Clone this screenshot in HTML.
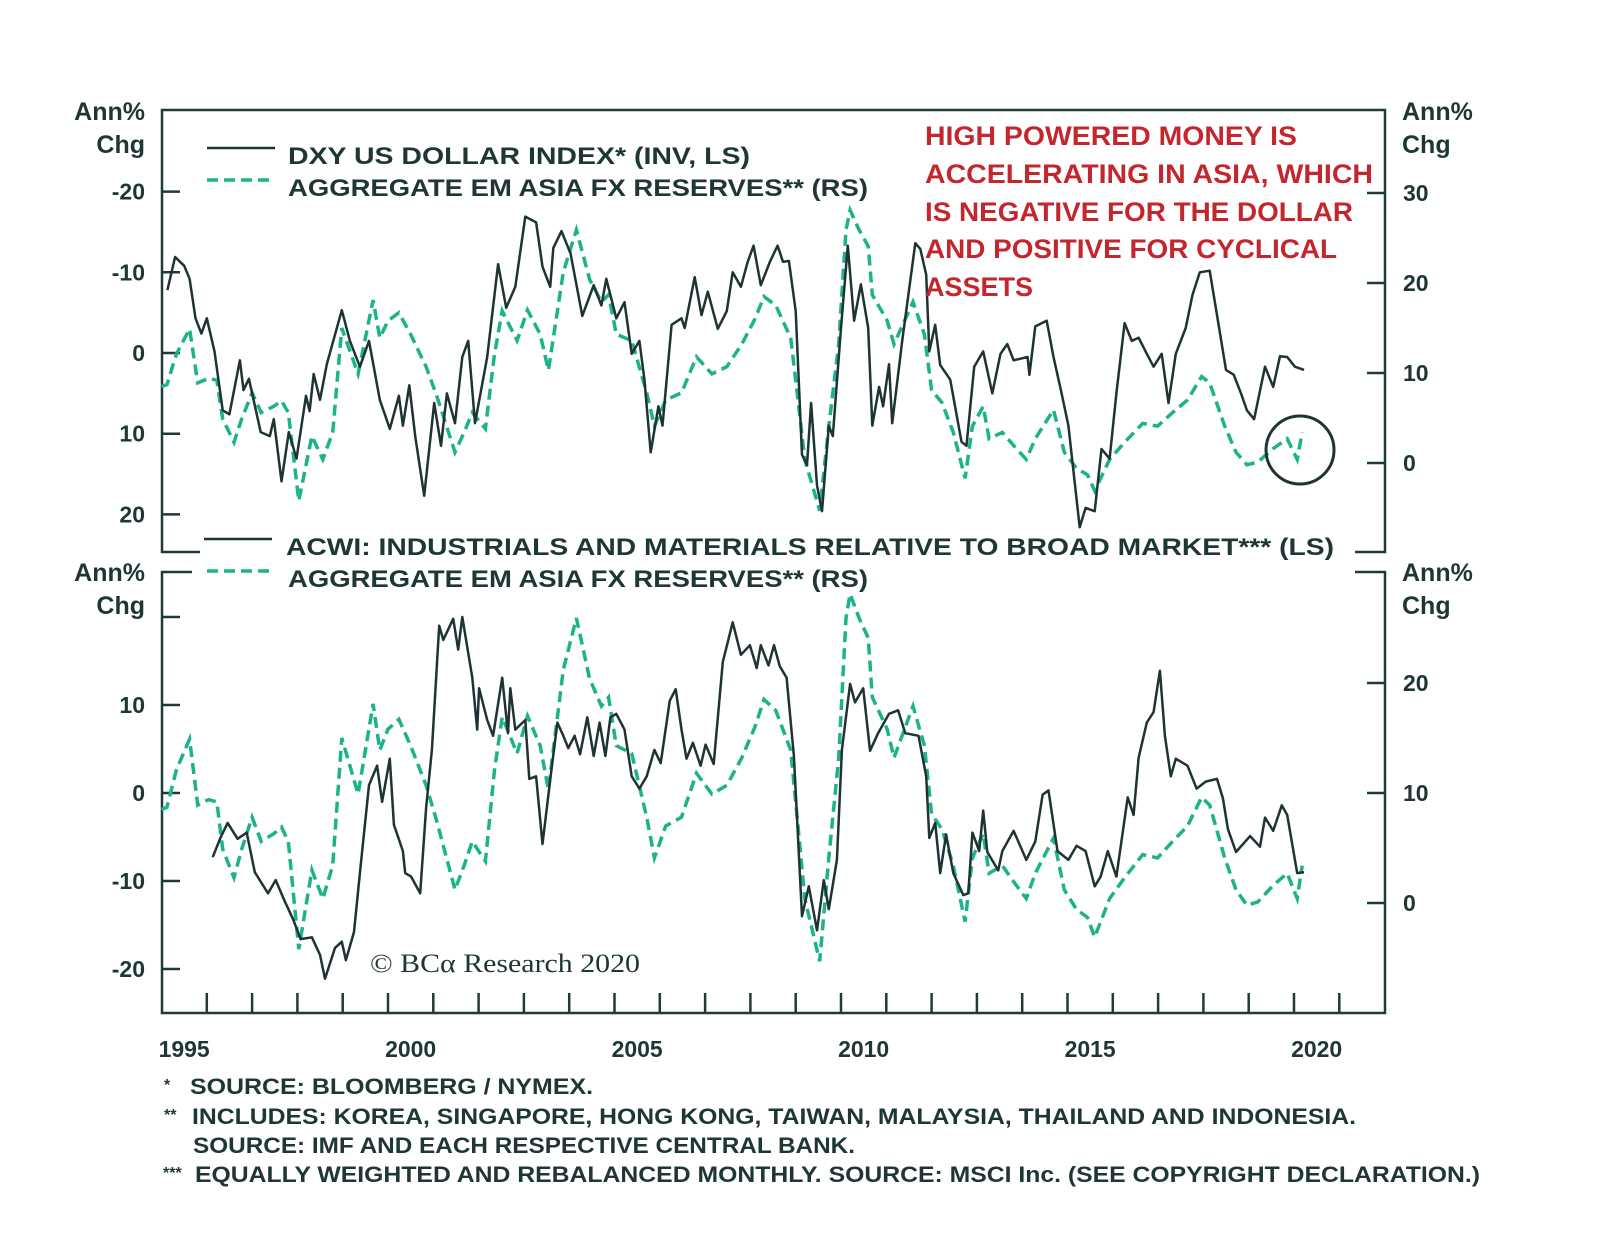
<!DOCTYPE html>
<html><head><meta charset="utf-8"><style>
html,body{margin:0;padding:0;background:#fff}
svg{display:block}
text{font-family:"Liberation Sans",sans-serif;font-weight:bold;fill:#1e3636}
</style></head><body>
<svg id="chart" width="1600" height="1247" viewBox="0 0 1600 1247" xmlns="http://www.w3.org/2000/svg">
<g id="frames" stroke="#1e3a3a" stroke-width="2.5" fill="none">
  <path d="M200 552 H162 V110 H1385 V552 H1355"/>
  <path d="M192 572 H162 V1013 H1385 V572 H1355"/>
</g>
<g id="axes"></g>
<g id="series"></g>
<g>
  <line x1="207" y1="148" x2="275" y2="148" stroke="#1e3333" stroke-width="2.5"/>
  <text x="288" y="164" font-size="24" textLength="462" lengthAdjust="spacingAndGlyphs">DXY US DOLLAR INDEX* (INV, LS)</text>
  <line x1="207" y1="180" x2="275" y2="180" stroke="#1cb38b" stroke-width="3.5" stroke-dasharray="11 6"/>
  <text x="288" y="196" font-size="24" textLength="580" lengthAdjust="spacingAndGlyphs">AGGREGATE EM ASIA FX RESERVES** (RS)</text>
</g>
<g>
  <line x1="204" y1="539" x2="272" y2="539" stroke="#1e3333" stroke-width="2.5"/>
  <text x="286" y="555" font-size="24" textLength="1048" lengthAdjust="spacingAndGlyphs">ACWI: INDUSTRIALS AND MATERIALS RELATIVE TO BROAD MARKET*** (LS)</text>
  <line x1="207" y1="571" x2="275" y2="571" stroke="#1cb38b" stroke-width="3.5" stroke-dasharray="11 6"/>
  <text x="288" y="587" font-size="24" textLength="580" lengthAdjust="spacingAndGlyphs">AGGREGATE EM ASIA FX RESERVES** (RS)</text>
</g>
<g font-size="27">
  <text x="925" y="145" style="fill:#c4262e" textLength="372" lengthAdjust="spacingAndGlyphs">HIGH POWERED MONEY IS</text>
  <text x="925" y="183" style="fill:#c4262e" textLength="448" lengthAdjust="spacingAndGlyphs">ACCELERATING IN ASIA, WHICH</text>
  <text x="925" y="221" style="fill:#c4262e" textLength="428" lengthAdjust="spacingAndGlyphs">IS NEGATIVE FOR THE DOLLAR</text>
  <text x="925" y="258" style="fill:#c4262e" textLength="412" lengthAdjust="spacingAndGlyphs">AND POSITIVE FOR CYCLICAL</text>
  <text x="925" y="296" style="fill:#c4262e" textLength="108" lengthAdjust="spacingAndGlyphs">ASSETS</text>
</g>
<circle cx="1300" cy="450" r="34" fill="none" stroke="#1e3333" stroke-width="3"/>
<text x="370" y="972" font-size="26" style="font-family:'Liberation Serif',serif;font-weight:normal" textLength="270" lengthAdjust="spacingAndGlyphs">© BCα Research 2020</text>
<g font-size="22">
  <text x="164" y="1090" font-size="16">*</text>
  <text x="190" y="1094" textLength="403" lengthAdjust="spacingAndGlyphs">SOURCE: BLOOMBERG / NYMEX.</text>
  <text x="164" y="1120" font-size="16">**</text>
  <text x="192" y="1124" textLength="1164" lengthAdjust="spacingAndGlyphs">INCLUDES: KOREA, SINGAPORE, HONG KONG, TAIWAN, MALAYSIA, THAILAND AND INDONESIA.</text>
  <text x="193" y="1153" textLength="662" lengthAdjust="spacingAndGlyphs">SOURCE: IMF AND EACH RESPECTIVE CENTRAL BANK.</text>
  <text x="163" y="1178" font-size="16">***</text>
  <text x="195" y="1182" textLength="1285" lengthAdjust="spacingAndGlyphs">EQUALLY WEIGHTED AND REBALANCED MONTHLY. SOURCE: MSCI Inc. (SEE COPYRIGHT DECLARATION.)</text>
</g>
</svg>
<script>
// ---- data ----
const resT = [1995.0,1995.12,1995.33,1995.62,1995.8,1996.04,1996.22,1996.35,1996.6,1996.77,1997.0,1997.2,1997.48,1997.65,1997.8,1998.03,1998.32,1998.56,1998.78,1998.98,1999.34,1999.67,1999.82,2000.0,2000.24,2000.5,2000.84,2001.08,2001.48,2001.68,2001.86,2002.15,2002.35,2002.52,2002.85,2003.08,2003.36,2003.54,2003.87,2004.16,2004.45,2004.71,2004.87,2005.04,2005.38,2005.71,2005.88,2006.13,2006.48,2006.81,2007.15,2007.48,2007.81,2008.1,2008.3,2008.56,2008.89,2009.05,2009.2,2009.53,2009.73,2009.95,2010.11,2010.2,2010.4,2010.6,2010.69,2011.02,2011.17,2011.59,2011.84,2012.0,2012.23,2012.48,2012.74,2012.9,2013.14,2013.27,2013.56,2013.87,2014.09,2014.29,2014.69,2014.93,2015.2,2015.44,2015.6,2015.93,2016.26,2016.66,2016.99,2017.32,2017.65,2017.96,2018.14,2018.47,2018.72,2018.96,2019.2,2019.54,2019.85,2020.07,2020.18];
const resV = [8.5,8.7,12.1,14.9,8.9,9.4,9.2,4.9,2.3,4.9,7.8,5.6,6.3,6.9,5.6,-4.2,3.0,0.4,3.4,15,9.9,18.1,13.9,15.8,16.7,14.3,10.7,7.4,1.2,3.4,5.6,3.8,12.1,16.9,13.6,17,14.3,10.3,21.2,25.9,20.4,17.9,18.7,14.3,13.6,7.8,4.1,7,7.8,11.8,9.9,10.7,13.2,16,18.5,17.5,13.9,7,0.4,-5.3,4.1,13.2,25.9,28.1,25.9,24.1,18.7,15.8,13.2,17.9,14.3,8.1,6.7,3.4,-1.7,4.1,6.3,2.7,3.4,1.6,0.4,2.7,5.9,1.2,-0.6,-1.3,-3.1,0.4,2.3,4.4,4.1,5.6,7,9.6,8.9,4.1,1.2,-0.2,0.1,1.6,2.7,0.4,3.4];
const dxyT = [1995.13,1995.3,1995.5,1995.62,1995.75,1995.88,1996.0,1996.17,1996.35,1996.5,1996.73,1996.81,1996.93,1997.19,1997.39,1997.48,1997.65,1997.81,1997.98,1998.19,1998.27,1998.36,1998.5,1998.65,1998.98,1999.16,1999.38,1999.58,1999.82,2000.04,2000.24,2000.33,2000.47,2000.6,2000.8,2001.02,2001.17,2001.3,2001.48,2001.64,2001.77,2001.92,2002.19,2002.43,2002.61,2002.81,2003.03,2003.27,2003.41,2003.58,2003.65,2003.83,2004.03,2004.29,2004.54,2004.71,2004.82,2005.04,2005.22,2005.38,2005.55,2005.66,2005.8,2005.97,2006.06,2006.26,2006.48,2006.55,2006.77,2006.92,2007.06,2007.28,2007.48,2007.61,2007.79,2007.94,2008.07,2008.23,2008.43,2008.6,2008.72,2008.85,2009.0,2009.14,2009.25,2009.34,2009.47,2009.58,2009.73,2009.82,2010.0,2010.15,2010.29,2010.44,2010.6,2010.69,2010.84,2010.93,2011.06,2011.13,2011.35,2011.64,2011.75,2011.88,2011.95,2012.08,2012.19,2012.41,2012.66,2012.77,2012.94,2013.14,2013.34,2013.52,2013.67,2013.81,2014.12,2014.16,2014.29,2014.54,2014.69,2014.87,2015.02,2015.27,2015.4,2015.6,2015.75,2015.93,2016.08,2016.26,2016.42,2016.57,2016.75,2016.9,2017.08,2017.23,2017.39,2017.61,2017.76,2017.92,2018.14,2018.3,2018.5,2018.67,2018.83,2018.96,2019.12,2019.36,2019.54,2019.69,2019.85,2020.02,2020.22];
const dxyV = [-7.8,-11.9,-10.8,-9.2,-4.3,-2.4,-4.3,-0.2,7.1,7.6,0.9,4.6,3.2,9.8,10.3,8.2,15.9,9.8,13.1,5.3,7.2,2.6,5.8,1.4,-5.3,-1.5,1.7,-1.5,5.8,9.4,5.3,9.0,4.0,10.3,17.7,6.2,11.5,5.0,8.7,0.5,-1.5,8.7,0.5,-11,-5.6,-8.2,-16.9,-16.2,-10.7,-8.2,-13,-15.1,-12.3,-4.6,-8.4,-5.9,-9.2,-4.3,-6.3,0.1,-1.5,3.3,12.3,6.6,9.0,-3.5,-4.3,-3.1,-9.4,-4.7,-7.6,-3.0,-5.2,-10,-8.2,-11.3,-13.3,-8.4,-11.3,-13.3,-11.3,-11.4,-5.2,12.6,13.9,6.2,16.4,19.6,9.0,10.3,-3.1,-13.3,-4.0,-8.5,-3.1,9.0,4.2,6.6,1.4,8.7,-1.5,-13.6,-12.9,-9.7,-0.2,-3.5,1.5,3.3,11.0,11.5,1.7,-0.2,5.0,0.1,-1.1,0.9,0.5,2.7,-3.3,-4.0,0.5,5.0,9.0,21.6,19.2,19.6,11.9,13.1,5.0,-3.7,-1.5,-1.9,0.1,1.7,0.1,6.2,0.1,-3.1,-7.2,-10.0,-10.2,-4.7,2.1,2.7,5.0,7.1,8.2,1.7,4.2,0.4,0.5,1.7,2.1];
const acwiT = [1996.13,1996.3,1996.46,1996.68,1996.88,1997.06,1997.35,1997.52,1997.72,1997.9,1998.07,1998.32,1998.5,1998.61,1998.83,1998.98,1999.07,1999.25,1999.38,1999.58,1999.76,1999.87,2000.04,2000.13,2000.33,2000.38,2000.51,2000.71,2000.84,2000.97,2001.13,2001.22,2001.44,2001.55,2001.64,2001.86,2001.97,2002.01,2002.19,2002.32,2002.52,2002.65,2002.7,2002.81,2003.03,2003.12,2003.27,2003.41,2003.61,2003.74,2003.87,2003.98,2004.12,2004.24,2004.4,2004.54,2004.67,2004.8,2004.91,2005.04,2005.22,2005.38,2005.55,2005.71,2005.88,2006.02,2006.22,2006.35,2006.48,2006.59,2006.73,2006.9,2007.01,2007.19,2007.39,2007.61,2007.79,2007.99,2008.14,2008.23,2008.4,2008.52,2008.65,2008.8,2008.96,2009.14,2009.29,2009.47,2009.62,2009.73,2009.91,2010.02,2010.2,2010.31,2010.49,2010.64,2010.82,2011.06,2011.26,2011.42,2011.71,2011.88,2011.95,2012.08,2012.19,2012.32,2012.48,2012.7,2012.81,2012.9,2013.05,2013.14,2013.23,2013.47,2013.56,2013.81,2014.09,2014.29,2014.45,2014.58,2014.78,2015.02,2015.2,2015.4,2015.6,2015.73,2015.89,2016.08,2016.33,2016.46,2016.57,2016.75,2016.9,2017.04,2017.15,2017.28,2017.39,2017.65,2017.85,2018.05,2018.3,2018.43,2018.54,2018.72,2019.03,2019.25,2019.36,2019.54,2019.73,2019.85,2020.07,2020.22];
const acwiV = [-7.3,-5.1,-3.4,-5.2,-4.5,-9.0,-11.4,-9.9,-12.3,-14.3,-16.6,-16.4,-18.4,-21.1,-17.6,-16.9,-19.0,-15.8,-9.1,0.9,3.1,-1.0,3.9,-3.6,-6.6,-9.1,-9.5,-11.4,-1.7,4.9,19.0,17.4,19.8,16.3,20.0,13.1,7.2,11.9,8.3,6.5,13.1,6.8,11.9,7.2,8.3,1.6,1.9,-5.8,2.7,8.0,6.5,5.1,6.5,4.4,8.6,4.2,8.0,4.2,8.6,9.0,7.2,1.9,0.5,1.9,4.9,3.4,10.5,11.8,7.2,3.9,5.7,3.1,5.5,3.3,14.9,19.4,15.7,16.8,14.2,16.8,14.5,16.8,14.4,13.1,4.2,-14.0,-10.6,-15.6,-9.9,-13.2,-7.6,4.9,12.4,10.3,11.9,4.8,6.8,9.0,9.4,6.8,6.5,1.9,-5.1,-3.4,-9.1,-4.7,-9.1,-11.6,-11.4,-4.5,-6.6,-2.0,-6.7,-8.8,-6.6,-4.3,-7.6,-5.5,-0.2,0.3,-6.6,-7.6,-6.0,-6.6,-10.6,-9.5,-6.6,-9.5,-0.5,-2.5,4.0,8.0,9.2,13.9,6.5,1.9,3.9,3.1,0.5,1.3,1.6,-0.6,-4.1,-6.7,-4.9,-6.1,-2.8,-4.3,-1.4,-2.5,-9.1,-9.0];
const topLeftTicks = [-20,-10,0,10,20];
const topRightTicks = [30,20,10,0];
const botLeftTicks = [20,10,0,-10,-20];
const botRightTicks = [30,20,10,0];
const yearLabels = [1995,2000,2005,2010,2015,2020];

// ---- scales ----
const NS = "http://www.w3.org/2000/svg";
const xS = t => 161.5 + 45.3 * (t - 1995);
const yTL = v => 353 + 8.07 * v;      // inverted DXY
const yTR = v => 463 - 9.0 * v;
const yBL = v => 793 - 8.8 * v;
const yBR = v => 903 - 11.0 * v;

const axes = document.getElementById('axes');
const series = document.getElementById('series');
function mk(tag, attrs, parent, txt){const e=document.createElementNS(NS,tag);for(const k in attrs)e.setAttribute(k,attrs[k]);if(txt!==undefined)e.textContent=txt;parent.appendChild(e);return e;}

// axis ticks and labels
topLeftTicks.forEach(v=>{
  const l=mk('line',{x1:162,x2:180,y1:yTL(v),y2:yTL(v),stroke:'#1e3a3a','stroke-width':2.5},axes);
  
  
  const t=mk('text',{x:145,y:yTL(v)+8,'text-anchor':'end','font-size':23},axes,String(v));
  
  
});
topRightTicks.forEach(v=>{
  const l=mk('line',{x1:1367,x2:1385,y1:yTR(v),y2:yTR(v),stroke:'#1e3a3a','stroke-width':2.5},axes);
  
  
  const t=mk('text',{x:1403,y:yTR(v)+8,'font-size':23},axes,String(v));
  
  
});
botLeftTicks.forEach(v=>{
  const l=mk('line',{x1:162,x2:180,y1:yBL(v),y2:yBL(v),stroke:'#1e3a3a','stroke-width':2.5},axes);
  
  
  if(v!==20){
    const t=mk('text',{x:145,y:yBL(v)+8,'text-anchor':'end','font-size':23},axes,String(v));
    
    
  }
});
botRightTicks.forEach(v=>{
  if(yBR(v)<580) return;
  const l=mk('line',{x1:1367,x2:1385,y1:yBR(v),y2:yBR(v),stroke:'#1e3a3a','stroke-width':2.5},axes);
  
  
  const t=mk('text',{x:1403,y:yBR(v)+8,'font-size':23},axes,String(v));
  
  
});
for(let y=1996;y<=2021;y++){
  const l=mk('line',{x1:xS(y),x2:xS(y),y1:993,y2:1013,stroke:'#1e3a3a','stroke-width':2.5},axes);
  
  
}
yearLabels.forEach(y=>{
  const t=mk('text',{x:xS(y+0.5),y:1057,'text-anchor':'middle','font-size':23},axes,String(y));
  
  
});
[['Ann%',145,120,'end'],['Chg',145,153,'end'],['Ann%',1402,120,'start'],['Chg',1402,153,'start'],
 ['Ann%',145,581,'end'],['Chg',145,614,'end'],['Ann%',1402,581,'start'],['Chg',1402,614,'start']].forEach(a=>{
  const t=mk('text',{x:a[1],y:a[2],'text-anchor':a[3],'font-size':25},axes,a[0]);
  
  
});

function path(T,V,xf,yf){return T.map((t,i)=>(i?'L':'M')+xf(t).toFixed(1)+' '+yf(V[i]).toFixed(1)).join(' ');}
const p1=mk('path',{d:path(resT,resV,xS,yTR),fill:'none',stroke:'#1cb38b','stroke-width':3.5,'stroke-dasharray':'11 6'},series);


const p2=mk('path',{d:path(dxyT,dxyV,xS,yTL),fill:'none',stroke:'#1e3333','stroke-width':2.5,'stroke-linejoin':'round'},series);


const p3=mk('path',{d:path(resT,resV,xS,yBR),fill:'none',stroke:'#1cb38b','stroke-width':3.5,'stroke-dasharray':'11 6'},series);


const p4=mk('path',{d:path(acwiT,acwiV,xS,yBL),fill:'none',stroke:'#1e3333','stroke-width':2.5,'stroke-linejoin':'round'},series);


</script>
</body></html>
